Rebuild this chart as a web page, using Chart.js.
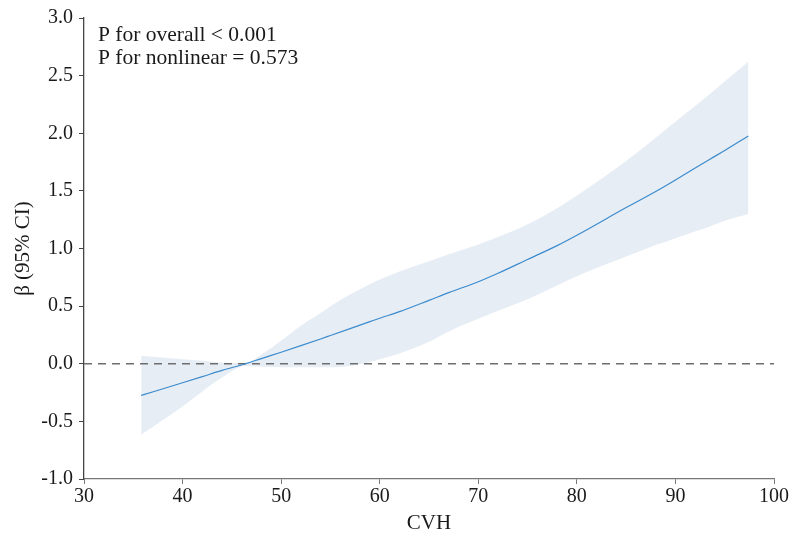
<!DOCTYPE html>
<html>
<head>
<meta charset="utf-8">
<script src="https://cdn.jsdelivr.net/npm/chart.js@4"></script>
<style>
  html, body { margin: 0; padding: 0; background: #fff; }
  #wrap { width: 791px; height: 534px; }
</style>
</head>
<body>
<div id="wrap"><canvas id="rcs"></canvas></div>
<script>
"use strict";

const CVH = [35.8, 40, 42, 44, 46.4, 48, 50, 52, 54, 55, 57, 59, 60, 62, 65, 67, 70, 72, 75, 78, 80, 85, 88, 90, 93.5, 95, 97.4];
const BETA = [-0.275, -0.165, -0.112, -0.058, 0.0, 0.045, 0.1, 0.157, 0.215, 0.245, 0.305, 0.365, 0.395, 0.452, 0.55, 0.617, 0.712, 0.785, 0.905, 1.025, 1.115, 1.355, 1.495, 1.595, 1.775, 1.85, 1.977];
const CI_LOW = [-0.615, -0.37, -0.24, -0.12, -0.02, -0.025, -0.03, -0.03, -0.03, -0.03, -0.02, 0.015, 0.04, 0.09, 0.19, 0.28, 0.39, 0.46, 0.56, 0.68, 0.76, 0.93, 1.03, 1.09, 1.19, 1.24, 1.30];
const CI_HIGH = [0.07, 0.04, 0.025, 0.01, 0.005, 0.08, 0.2, 0.33, 0.44, 0.5, 0.6, 0.69, 0.73, 0.8, 0.89, 0.95, 1.035, 1.1, 1.21, 1.35, 1.46, 1.76, 1.96, 2.1, 2.34, 2.45, 2.62];

const REF_X = [30, 100];
const REF_Y = [0, 0];

const X_TICKS = [30, 40, 50, 60, 70, 80, 90, 100];
const Y_TICKS = [-1.0, -0.5, 0.0, 0.5, 1.0, 1.5, 2.0, 2.5, 3.0];

const NOTES = ["P for overall < 0.001", "P for nonlinear = 0.573"];

const FONT = '"Liberation Serif", "DejaVu Serif", serif';
const pts = (xs, ys) => xs.map((x, i) => ({ x, y: ys[i] }));

const notesPlugin = {
  id: "notes",
  afterDraw(chart) {
    const { ctx, chartArea } = chart;
    ctx.save();
    ctx.font = `21.5px ${FONT}`;
    ctx.fillStyle = "#1a1a1a";
    ctx.textBaseline = "middle";
    NOTES.forEach((t, i) => ctx.fillText(t, chartArea.left + 14, chartArea.top + 17 + i * 23));
    ctx.restore();
  },
};

new Chart(document.getElementById("rcs"), {
  type: "line",
  data: {
    datasets: [
      {
        label: "lower",
        data: pts(CVH, CI_LOW),
        borderWidth: 0,
        pointRadius: 0,
        fill: false,
        cubicInterpolationMode: "monotone",
        order: 3,
      },
      {
        label: "upper",
        data: pts(CVH, CI_HIGH),
        borderWidth: 0,
        pointRadius: 0,
        backgroundColor: "rgba(221, 230, 241, 0.7)",
        fill: "-1",
        cubicInterpolationMode: "monotone",
        order: 3,
      },
      {
        label: "ref",
        data: pts(REF_X, REF_Y),
        borderColor: "#6e6e6e",
        borderWidth: 1.3,
        borderDash: [8, 6],
        pointRadius: 0,
        fill: false,
        order: 2,
      },
      {
        label: "beta",
        data: pts(CVH, BETA),
        borderColor: "#3b8bcd",
        borderWidth: 1.2,
        pointRadius: 0,
        fill: false,
        cubicInterpolationMode: "monotone",
        order: 1,
      },
    ],
  },
  options: {
    responsive: true,
    maintainAspectRatio: false,
    animation: false,
    layout: { padding: { top: 18, right: 17, left: 0, bottom: 0 } },
    plugins: {
      legend: { display: false },
      tooltip: { enabled: false },
      notes: {},
    },
    scales: {
      x: {
        type: "linear",
        min: 30,
        max: 100,
        afterFit: (s) => { s.height = 55; },
        afterBuildTicks: (s) => { s.ticks = X_TICKS.map((v) => ({ value: v })); },
        border: { color: "#777", width: 1.3 },
        grid: { drawOnChartArea: false, tickLength: 5, color: "#777" },
        ticks: { color: "#1a1a1a", font: { family: FONT, size: 20 }, padding: 1, maxRotation: 0 },
        title: { display: true, text: "CVH", color: "#1a1a1a", font: { family: FONT, size: 21 }, padding: { top: 0, bottom: -2 } },
      },
      y: {
        type: "linear",
        min: -1,
        max: 3,
        afterFit: (s) => { s.width = 84; },
        afterBuildTicks: (s) => { s.ticks = Y_TICKS.map((v) => ({ value: v })); },
        border: { color: "#444", width: 1.3 },
        grid: { drawOnChartArea: false, tickLength: 5, color: "#444" },
        ticks: {
          color: "#1a1a1a",
          font: { family: FONT, size: 20 },
          padding: 6,
          callback: (v) => Number(v).toFixed(1),
        },
        title: { display: true, text: "β (95% CI)", color: "#1a1a1a", font: { family: FONT, size: 21 }, padding: { top: 11, bottom: 0 } },
      },
    },
  },
  plugins: [notesPlugin],
});
</script>
</body>
</html>
